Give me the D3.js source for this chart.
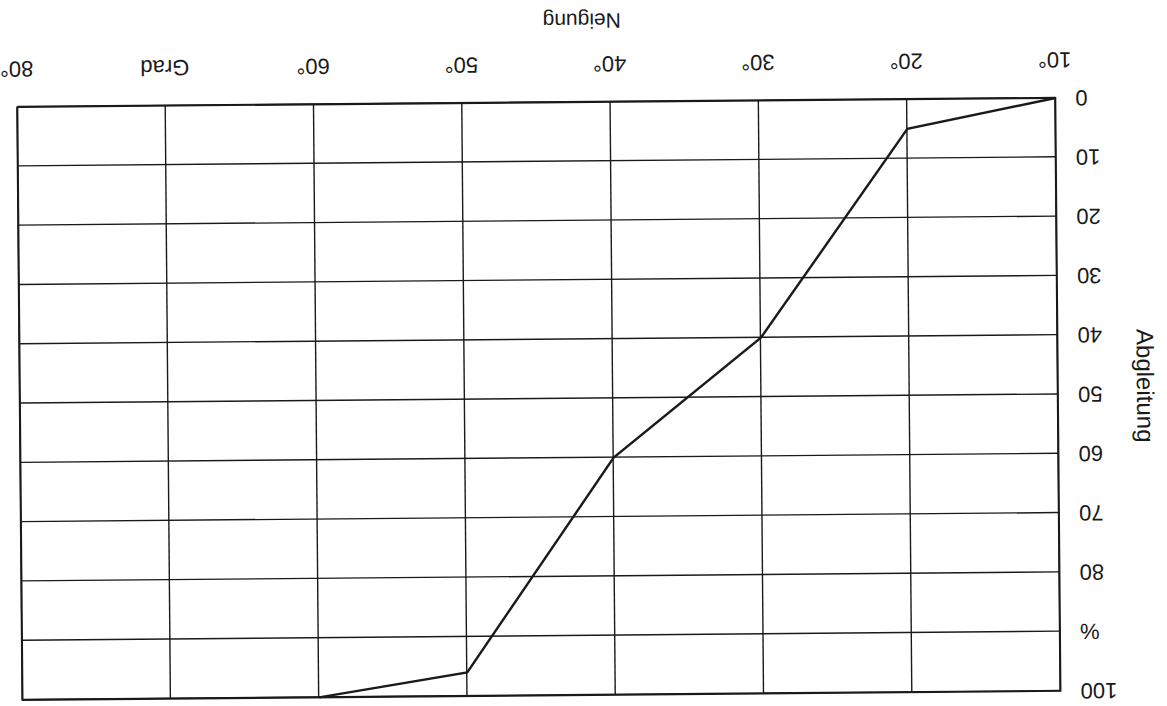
<!DOCTYPE html>
<html>
<head>
<meta charset="utf-8">
<script src="https://cdn.jsdelivr.net/npm/d3@7"></script>
<style>
  html, body { margin: 0; padding: 0; background: #fff; }
  svg { display: block; }
  text { font-family: "Liberation Sans", Arial, sans-serif; fill: #1a1a1a; }
</style>
</head>
<body>
<svg id="chart" width="1167" height="706"></svg>
<script>
// Neigung (Grad) on the horizontal axis, Abgleitung (%) on the vertical axis
const neigungTicks = [10, 20, 30, 40, 50, 60, 70, 80];
const neigungLabels = ["10°", "20°", "30°", "40°", "50°", "60°", "Grad", "80°"];
const abgleitungTicks = [0, 10, 20, 30, 40, 50, 60, 70, 80, 90, 100];
const abgleitungLabels = ["0", "10", "20", "30", "40", "50", "60", "70", "80", "%", "100"];

// measured curve: slope angle vs. slip percentage
const neigung = [10, 20, 30, 40, 50, 60];
const abgleitung = [0, 5, 40, 60, 96, 100];

const svg = d3.select("#chart");

const plot = { left: 20, right: 1058, top: 102.5, bottom: 695.5 };
const cx = (plot.left + plot.right) / 2;
const cy = (plot.top + plot.bottom) / 2;
const ink = "#1a1a1a";

// the sheet is drawn turned over (upside down, slightly skewed)
const root = svg.append("g")
  .attr("transform", `translate(${cx},${cy}) rotate(179.5) translate(${-cx},${-cy})`);

const x = d3.scaleLinear().domain([10, 80]).range([plot.left, plot.right]);
const y = d3.scaleLinear().domain([0, 100]).range([plot.bottom, plot.top]);

const ph = plot.bottom - plot.top;
const pw = plot.right - plot.left;

// vertical grid + Neigung labels
const xAxis = d3.axisBottom(x)
  .tickValues(neigungTicks)
  .tickFormat((d, i) => neigungLabels[i])
  .tickSize(-ph)
  .tickPadding(30);
const gx = root.append("g")
  .attr("transform", `translate(0,${plot.bottom})`)
  .call(xAxis);
gx.select(".domain").remove();
gx.selectAll(".tick line").attr("stroke", ink).attr("stroke-width", 1.4);
gx.selectAll(".tick text")
  .attr("fill", ink)
  .style("font-size", "22px");

// horizontal grid + Abgleitung labels
const yAxis = d3.axisLeft(y)
  .tickValues(abgleitungTicks)
  .tickFormat((d, i) => abgleitungLabels[i])
  .tickSize(-pw)
  .tickPadding(20);
const gy = root.append("g")
  .attr("transform", `translate(${plot.left},0)`)
  .call(yAxis);
gy.select(".domain").remove();
gy.selectAll(".tick line").attr("stroke", ink).attr("stroke-width", 1.4);
gy.selectAll(".tick text")
  .attr("fill", ink)
  .style("font-size", "22px");

// frame
root.append("rect")
  .attr("x", plot.left).attr("y", plot.top)
  .attr("width", pw).attr("height", ph)
  .attr("fill", "none").attr("stroke", ink).attr("stroke-width", 1.8);

// curve
const line = d3.line()
  .x((d, i) => x(neigung[i]))
  .y((d, i) => y(abgleitung[i]));
root.append("path")
  .datum(neigung)
  .attr("d", line)
  .attr("fill", "none")
  .attr("stroke", ink)
  .attr("stroke-width", 2.4)
  .attr("stroke-linejoin", "miter");

// axis titles
root.append("text")
  .attr("x", 493).attr("y", 784)
  .attr("text-anchor", "middle")
  .style("font-size", "21px")
  .text("Neigung");

root.append("text")
  .attr("transform", `translate(-59,407) rotate(-90)`)
  .attr("text-anchor", "middle")
  .style("font-size", "24px")
  .text("Abgleitung");
</script>
</body>
</html>
